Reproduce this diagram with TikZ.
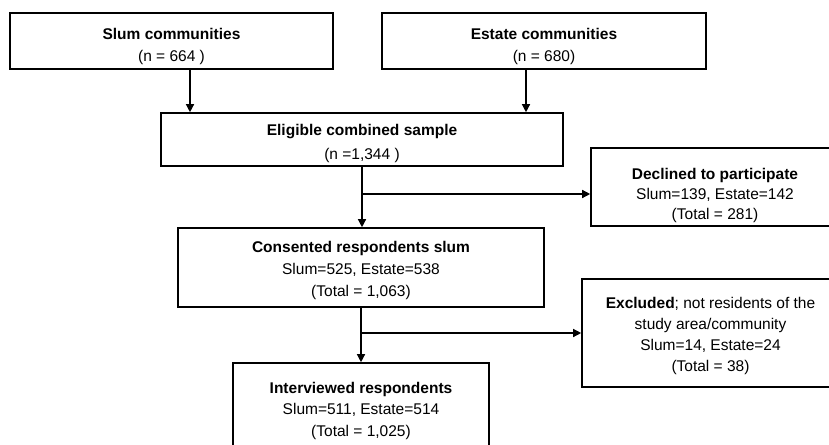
\documentclass[tikz,border=0pt]{standalone}
\usepackage{fontspec}
\setmainfont{Liberation Sans}
\usetikzlibrary{arrows.meta}
\begin{document}
\begin{tikzpicture}[x=1pt,y=-1pt,
  box/.style={draw=black,line width=1.6pt,rectangle,inner sep=0pt},
  txt/.style={align=center,inner sep=0pt,font=\fontsize{15.5}{#1}\selectfont},
  txt/.default=21.5,
  arr/.style={line width=1.3pt,-{Triangle[length=8pt,width=8pt]}}]
\useasboundingbox (0,0) rectangle (829,444);
\clip (0,0) rectangle (829,444);
% boxes
\node[box,minimum width=323pt,minimum height=56pt] (slum) at (171.5,41) {};
\node[box,minimum width=324pt,minimum height=56pt] (estate) at (544,41) {};
\node[box,minimum width=402pt,minimum height=53pt] (elig) at (362,139.5) {};
\node[box,minimum width=248pt,minimum height=78pt] (decl) at (715,187) {};
\node[box,minimum width=366pt,minimum height=79pt] (cons) at (361,267.5) {};
\node[box,minimum width=257pt,minimum height=108pt] (excl) at (710.5,333) {};
\node[box,minimum width=256pt,minimum height=96pt] (intv) at (361,411) {};
% texts
\node[txt=22] (slumt) at (171.5,46.5) {\textbf{Slum communities}\\(n = 664 )};
\node[txt=22] (estatet) at (544,46.5) {\textbf{Estate communities}\\(n = 680)};
\node[txt=24] (eligt) at (362,143) {\textbf{Eligible combined sample}\\(n =1,344 )};
\node[txt=20] (declt) at (715,195.5) {\textbf{Declined to participate}\\Slum=139, Estate=142\\(Total = 281)};
\node[txt=22] (const) at (361,270.5) {\textbf{Consented respondents slum}\\Slum=525, Estate=538\\(Total = 1,063)};
\node[txt=21] (exclt) at (710.5,336) {\textbf{Excluded}; not residents of the\\study area/community\\Slum=14, Estate=24\\(Total = 38)};
\node[txt=21.5] (intvt) at (361,410.5) {\textbf{Interviewed respondents}\\Slum=511, Estate=514\\(Total = 1,025)};
% connectors
\coordinate (a1) at (190,0);
\coordinate (a2) at (526,0);
\coordinate (b1) at (362,194);
\coordinate (b2) at (361,333);
\draw[arr] (slum.south -| a1) -- (elig.north -| a1);
\draw[arr] (estate.south -| a2) -- (elig.north -| a2);
\draw[arr] (elig.south -| b1) -- (cons.north -| b1);
\draw[arr] (b1) -- (decl.west |- b1);
\draw[arr] (cons.south -| b2) -- (intv.north -| b2);
\draw[arr] (b2) -- (excl.west |- b2);
\end{tikzpicture}
\end{document}
